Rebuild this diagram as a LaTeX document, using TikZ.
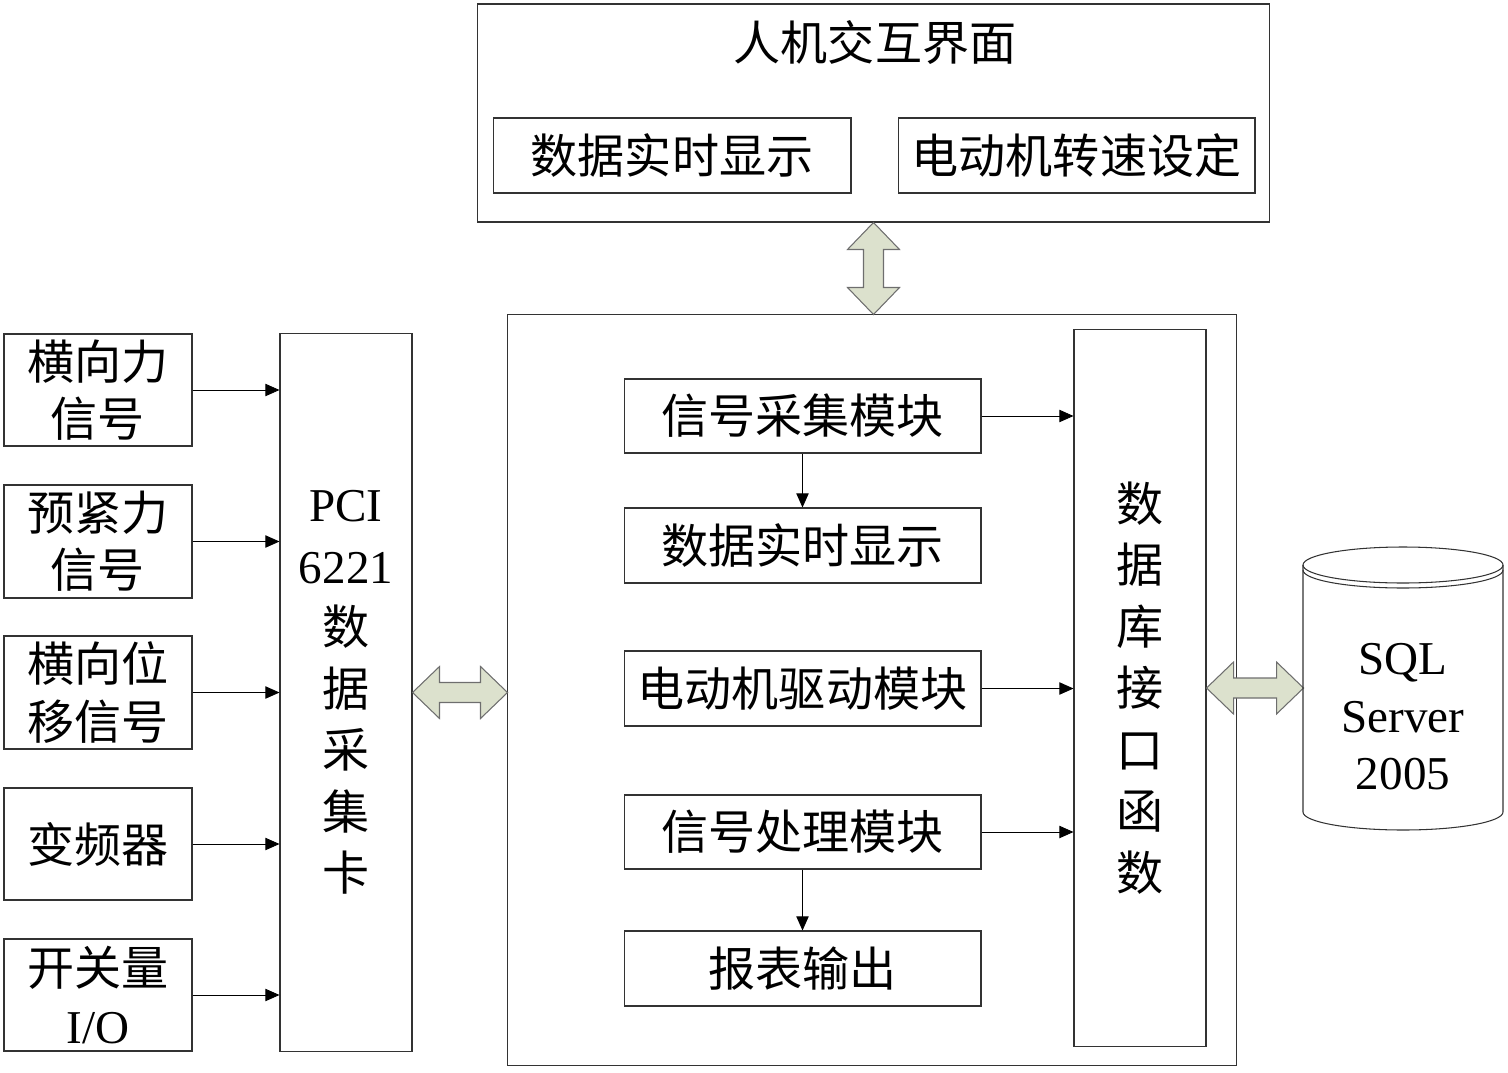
\documentclass[tikz,border=0pt]{standalone}
\usepackage{fontspec}
\setmainfont{Liberation Serif}
\newfontfamily\cjk{Noto Sans CJK SC}
\usetikzlibrary{arrows.meta}
\definecolor{arrowfill}{RGB}{220,225,205}
\definecolor{arrowline}{RGB}{110,110,110}
\tikzset{
  box/.style={draw=black!80, line width=0.6pt, inner sep=0pt, align=center, font=\cjk\fontsize{26.8}{32.5}\selectfont},
  vbox/.style={box, font=\cjk\fontsize{26.8}{35}\selectfont},
  link/.style={-{Triangle[length=8pt,width=7pt]}, line width=0.5pt},
  bigarrow/.style={fill=arrowfill, draw=arrowline, line width=0.6pt, line join=miter}
}
\begin{document}
\begin{tikzpicture}[x=0.02cm, y=-0.02cm]
  \useasboundingbox (0,0) rectangle (1508,1072);
  \node[box, minimum width=15.86cm, minimum height=4.36cm] (hmi) at (873.5,113) {};
  \node[box, draw=none] (hmititle) at (875,43) {人机交互界面};
  \node[box, minimum width=7.16cm, minimum height=1.5cm] (show1) at (672,155.5) {数据实时显示};
  \node[box, minimum width=7.14cm, minimum height=1.5cm] (speed) at (1076.5,155.5) {电动机转速设定};
  \node[box, minimum width=14.6cm, minimum height=15.04cm] (core) at (872,690) {};
  \node[box, minimum width=7.14cm, minimum height=1.48cm] (acq) at (802.5,416) {信号采集模块};
  \node[box, minimum width=7.14cm, minimum height=1.5cm] (show2) at (802.5,545.5) {数据实时显示};
  \node[box, minimum width=7.14cm, minimum height=1.5cm] (drive) at (802.5,688.5) {电动机驱动模块};
  \node[box, minimum width=7.14cm, minimum height=1.48cm] (proc) at (802.5,832) {信号处理模块};
  \node[box, minimum width=7.14cm, minimum height=1.5cm] (report) at (802.5,968.5) {报表输出};
  \node[vbox, minimum width=2.64cm, minimum height=14.36cm] (dbif) at (1140,688) {数\\据\\库\\接\\口\\函\\数};
  \node[vbox, minimum width=2.64cm, minimum height=14.38cm] (pci) at (346,692.5) {{\rmfamily PCI}\\{\rmfamily 6221}\\数\\据\\采\\集\\卡};
  \node[box, minimum width=3.76cm, minimum height=2.24cm] (in1) at (98,390) {横向力\\信号};
  \node[box, minimum width=3.76cm, minimum height=2.26cm] (in2) at (98,541.5) {预紧力\\信号};
  \node[box, minimum width=3.76cm, minimum height=2.26cm] (in3) at (98,692.5) {横向位\\移信号};
  \node[box, minimum width=3.76cm, minimum height=2.24cm] (in4) at (98,844) {变频器};
  \node[box, minimum width=3.76cm, minimum height=2.24cm] (in5) at (98,995) {开关量\\{\rmfamily I/O}};
  \foreach \i in {1,...,5}
    \draw[link] (in\i.east) -- (in\i.east -| pci.west);
  \draw[link] (acq.east) -- (acq.east -| dbif.west);
  \draw[link] (drive.east) -- (drive.east -| dbif.west);
  \draw[link] (proc.east) -- (proc.east -| dbif.west);
  \draw[link] (acq.south) -- (show2.north);
  \draw[link] (proc.south) -- (report.north);
  \draw[bigarrow] (hmi.south) -- ++(26,27) -- ++(-16,0) -- ++(0,38) -- ++(16,0) -- ++(-26,27) -- ++(-26,-27) -- ++(16,0) -- ++(0,-38) -- ++(-16,0) -- cycle;
  \draw[bigarrow] (pci.east) -- ++(27,-26) -- ++(0,16) -- ++(41,0) -- ++(0,-16) -- ++(27,26) -- ++(-27,26) -- ++(0,-16) -- ++(-41,0) -- ++(0,16) -- cycle;
  \draw[bigarrow] (dbif.east) -- ++(27,-26) -- ++(0,16) -- ++(43,0) -- ++(0,-16) -- ++(27,26) -- ++(-27,26) -- ++(0,-16) -- ++(-43,0) -- ++(0,16) -- cycle;
  \draw[draw=black!80, line width=0.6pt] (1303,565) -- (1303,812) arc[start angle=180, end angle=0, x radius=100, y radius=18] -- (1503,565);
  \draw[draw=black!80, line width=0.6pt] (1403,565) ellipse[x radius=100, y radius=18];
  \draw[draw=black!80, line width=0.6pt] (1303,570) arc[start angle=180, end angle=0, x radius=100, y radius=18];
  \node[box, draw=none, font=\fontsize{26.8}{32.7}\selectfont] (sql) at (1403,717) {SQL\\Server\\2005};
\end{tikzpicture}
\end{document}
